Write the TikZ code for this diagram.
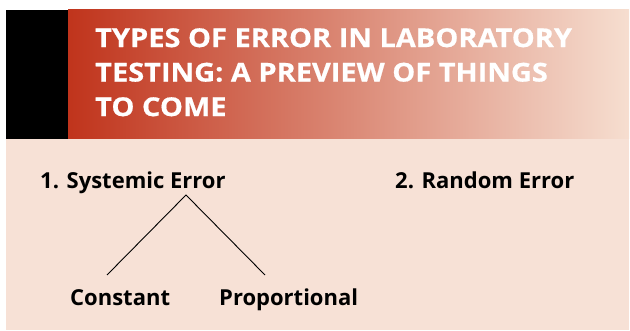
\documentclass[tikz,border=0pt]{standalone}
\usepackage{fontspec}
\setmainfont{Open Sans}
\newfontfamily\headfont{Open Sans}[FakeStretch=1.115, BoldFeatures={FakeBold=0.6}]
\usetikzlibrary{positioning}

\definecolor{bannerred}{RGB}{192,52,28}
\definecolor{bannerpale}{RGB}{246,222,208}
\definecolor{panelpeach}{RGB}{247,225,214}

\begin{document}
\begin{tikzpicture}[
          x=1pt, y=-1pt,
          title/.style={text=white, font=\headfont\bfseries\fontsize{26}{34.5}\selectfont,
            align=left, anchor=north west, inner sep=0pt},
          item/.style={font=\bfseries\fontsize{22}{26}\selectfont,
            anchor=base west, inner sep=0pt}
        ]
          \useasboundingbox (0,0) rectangle (630,331);

          % banner and panel
          \fill (6,10) rectangle (68,139);
          \shade[left color=bannerred, right color=bannerpale] (68,10) rectangle (629,139);
          \fill[panelpeach] (6,139) rectangle (629,330);

          \node[title] (head) at (95,28) {TYPES OF ERROR IN LABORATORY\\TESTING: A PREVIEW OF THINGS\\TO COME};

          \node[item] (sys) at (40,189) {1. Systemic Error};
          \node[item] (rnd) at (395,189) {2. Random Error};
          \node[item] (con) at (70,306) {Constant};
          \node[item] (pro) at (219,306) {Proportional};

          \coordinate (apex) at (186,195);
          \coordinate (conTop) at (107,275);
          \coordinate (proTop) at (265,275);

          \draw[line width=0.9pt] (conTop) -- (apex) -- (proTop);
        \end{tikzpicture}
\end{document}
